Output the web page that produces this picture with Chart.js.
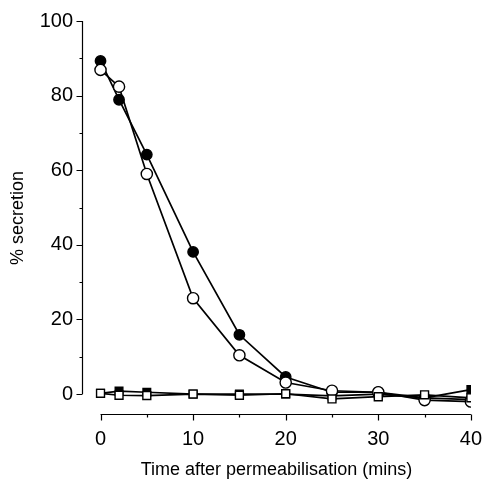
<!DOCTYPE html>
<html>
<head>
<meta charset="utf-8">
<script src="https://cdn.jsdelivr.net/npm/chart.js@4"></script>
<style>
  html, body { margin: 0; padding: 0; background: #fff; }
  #wrap { width: 494px; height: 484px; }
</style>
</head>
<body>
<div id="wrap"><canvas id="chart"></canvas></div>
<script>
// Time points (mins)
const times = [0, 2, 5, 10, 15, 20, 25, 30, 35, 40];

// % secretion for each condition
const filledCircles = [89.3, 78.9, 64.2, 38.1, 15.9, 4.6, 0.5, 0.5, -1.0, -1.5];
const openCircles   = [86.9, 82.4, 59.0, 25.7, 10.4, 3.1, 0.9, 0.5, -1.6, -2.0];
const filledSquares = [0.2, 0.8, 0.5, 0.0, 0.0, 0.0, -0.5, 0.0, -1.0, 1.2];
const openSquares   = [0.2, -0.3, -0.4, 0.0, -0.3, 0.1, -1.3, -0.7, -0.2, -1.0];

// Axis ticks
const xMajor = [0, 10, 20, 30, 40];
const xMinor = [5, 15, 25, 35];
const yMajor = [0, 20, 40, 60, 80, 100];
const yMinor = [10, 30, 50, 70, 90];

const pts = arr => arr.map((v, i) => ({ x: times[i], y: v }));

// Origin style detached axes: line only over the data range, ticks pointing out
const detachedAxes = {
    id: 'detachedAxes',
    afterDraw(chart) {
        const { ctx, scales: { x, y } } = chart;
        const yAxisX = x.getPixelForValue(-2) + 0.5;
        const xAxisY = y.getPixelForValue(-5.6) - 0.5;
        ctx.save();
        ctx.strokeStyle = '#000';
        ctx.lineWidth = 1.2;
        ctx.beginPath();
        // y axis
        ctx.moveTo(yAxisX, y.getPixelForValue(100));
        ctx.lineTo(yAxisX, y.getPixelForValue(0));
        yMajor.forEach(v => {
            const py = Math.round(y.getPixelForValue(v)) + 0.5;
            ctx.moveTo(yAxisX, py);
            ctx.lineTo(yAxisX - 6, py);
        });
        yMinor.forEach(v => {
            const py = Math.round(y.getPixelForValue(v)) + 0.5;
            ctx.moveTo(yAxisX, py);
            ctx.lineTo(yAxisX - 3, py);
        });
        // x axis
        ctx.moveTo(x.getPixelForValue(0), xAxisY);
        ctx.lineTo(x.getPixelForValue(40), xAxisY);
        xMajor.forEach(v => {
            const px = Math.round(x.getPixelForValue(v)) + 0.5;
            ctx.moveTo(px, xAxisY);
            ctx.lineTo(px, xAxisY + 6);
        });
        xMinor.forEach(v => {
            const px = Math.round(x.getPixelForValue(v)) + 0.5;
            ctx.moveTo(px, xAxisY);
            ctx.lineTo(px, xAxisY + 3);
        });
        ctx.stroke();
        ctx.restore();
    }
};

const common = {
    borderColor: '#000',
    borderWidth: 1.7,
    pointBorderColor: '#000',
    pointBorderWidth: 1.4,
    pointHoverRadius: 5,
    tension: 0,
    fill: false
};

new Chart(document.getElementById('chart').getContext('2d'), {
    type: 'scatter',
    data: {
        datasets: [
            { ...common, label: 'filled circles', data: pts(filledCircles), showLine: true,
              pointStyle: 'circle', pointRadius: 5.2, pointBackgroundColor: '#000', order: 3 },
            { ...common, label: 'open circles', data: pts(openCircles), showLine: true,
              pointStyle: 'circle', pointRadius: 5.6, pointBackgroundColor: '#fff', order: 2 },
            { ...common, label: 'filled squares', data: pts(filledSquares), showLine: true,
              pointStyle: 'rect', pointRadius: 5.4, pointBackgroundColor: '#000', order: 4 },
            { ...common, label: 'open squares', data: pts(openSquares), showLine: true,
              pointStyle: 'rect', pointRadius: 5.6, pointBackgroundColor: '#fff', order: 1 }
        ]
    },
    options: {
        responsive: true,
        maintainAspectRatio: false,
        animation: false,
        events: [],
        layout: { padding: { top: 16, right: 14, left: 0, bottom: 0 } },
        plugins: {
            legend: { display: false },
            tooltip: { enabled: false }
        },
        scales: {
            x: {
                type: 'linear',
                min: -2,
                max: 40,
                grid: { display: false, drawTicks: false },
                border: { display: false },
                afterBuildTicks: s => { s.ticks = xMajor.map(v => ({ value: v })); },
                afterFit: s => { s.height = 69; },
                ticks: {
                    color: '#000',
                    padding: 12,
                    maxRotation: 0,
                    font: { family: 'Liberation Sans, Arial, sans-serif', size: 20 }
                },
                title: {
                    display: true,
                    text: 'Time after permeabilisation (mins)',
                    color: '#000',
                    padding: { top: 0, bottom: 3 },
                    font: { family: 'Liberation Sans, Arial, sans-serif', size: 18 }
                }
            },
            y: {
                type: 'linear',
                min: -5.6,
                max: 100,
                grid: { display: false, drawTicks: false },
                border: { display: false },
                afterBuildTicks: s => { s.ticks = yMajor.map(v => ({ value: v })); },
                afterFit: s => { s.width = 82; },
                ticks: {
                    color: '#000',
                    padding: 9,
                    font: { family: 'Liberation Sans, Arial, sans-serif', size: 20 }
                },
                title: {
                    display: true,
                    text: '% secretion',
                    color: '#000',
                    padding: { top: 7, bottom: 0 },
                    font: { family: 'Liberation Sans, Arial, sans-serif', size: 18 }
                }
            }
        }
    },
    plugins: [detachedAxes]
});
</script>
</body>
</html>
